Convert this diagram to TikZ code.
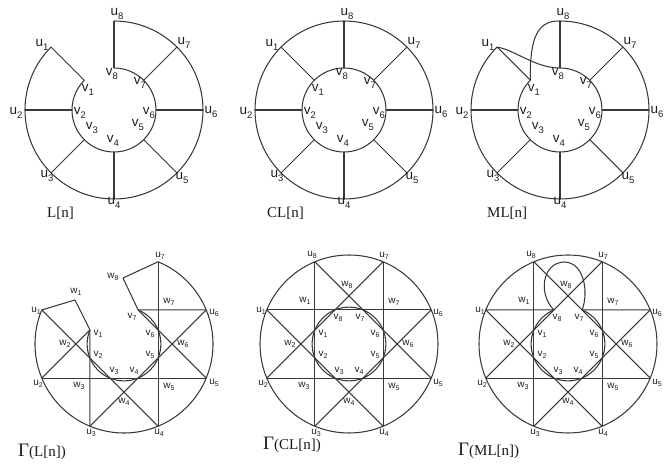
\documentclass[tikz,border=0pt]{standalone}
\usepackage{fontspec}
\setmainfont{Liberation Serif}
\setsansfont{Liberation Sans}
\newcommand\tlab[2]{{\fontsize{13.5}{14}\selectfont #1\raisebox{-0.45ex}{\fontsize{9.5}{10}\selectfont #2}}}
\newcommand\blab[2]{{\fontsize{10}{11}\selectfont #1\raisebox{-0.45ex}{\fontsize{7}{8}\selectfont #2}}}
\newcommand\capt[1]{{\fontsize{15}{17}\selectfont #1}}
\newcommand\gam{{\fontsize{19}{20}\selectfont Γ}}
\def\toplist{u/1/-72/65,u/2/-98/-3,u/3/-67/-66,u/4/0/-93,u/5/68/-68,u/6/97/-2,u/7/70/67,u/8/3/96,v/1/-26/20,v/2/-34/-3,v/3/-22/-18,v/4/-1/-31,v/5/24/-15,v/6/35/-3,v/7/26/27,v/8/-2/36}
\def\gclist{u/1/-88/33,u/2/-86/-40,u/3/-33/-89,u/4/35/-89,u/5/89/-39,u/6/89/31,u/7/35/88,u/8/-37/89,w/1/-44/43,w/2/-59/0,w/3/-45/-42,w/4/0/-58,w/5/45/-43,w/6/59/0,w/7/45/42,w/8/-2/59,v/1/-26/10,v/2/-26/-11,v/3/-10/-27,v/4/10/-27,v/5/26/-11,v/6/26/10,v/7/11/26,v/8/-11/26}
\def\gllist{u/1/-88/33,u/2/-86/-40,u/3/-33/-89,u/4/35/-89,u/5/90/-39,u/6/90/31,u/7/36/88,w/1/-48/52,w/2/-59/0,w/3/-45/-42,w/4/0/-58,w/5/45/-43,w/6/59/0,w/7/45/42,w/8/-11/67,v/1/-26/10,v/2/-26/-11,v/3/-10/-27,v/4/10/-27,v/5/26/-11,v/6/26/10,v/7/8/27}
\newcommand\toplabels[1]{\foreach \lt/\kk/\px/\py in \toplist {\node[lab] (#1l\lt\kk) at (\px,\py) {\tlab{\lt}{\kk}};}}
\newcommand\botlabels[2]{\foreach \lt/\kk/\px/\py in #2 {\node[lab] (#1l\lt\kk) at (\px,\py) {\blab{\lt}{\kk}};}}
\newcommand\topcoords[1]{\foreach \i in {1,...,8}{%
    \pgfmathsetmacro\ang{135+45*(\i-1)}%
    \coordinate (#1u\i) at (\ang:89);%
    \coordinate (#1v\i) at (\ang:42);}}
\newcommand\gcoords[1]{\foreach \i in {1,...,8}{%
    \pgfmathsetmacro\ang{157.5+45*(\i-1)}%
    \pgfmathsetmacro\wng{135+45*(\i-1)}%
    \coordinate (#1u\i) at (\ang:89);%
    \coordinate (#1v\i) at (\ang:36.87);%
    \coordinate (#1w\i) at (\wng:48.17);}}
\begin{document}
\begin{tikzpicture}[x=1pt,y=1pt,
  edge/.style={line width=1.05pt, draw=black!78, line join=round},
  lab/.style={inner sep=0pt, font=\sffamily, text=black!88},
  capn/.style={inner sep=0pt, anchor=base west, text=black!90}]
\useasboundingbox (0,0) rectangle (665,466);

% ---------- L[n] ----------
\begin{scope}[shift={(114,356)}]
  \coordinate (ac) at (0,0);
  \topcoords{a}
  \draw[edge] (au1) arc[start angle=135,end angle=450,radius=89];
  \draw[edge] (av1) arc[start angle=135,end angle=450,radius=42];
  \foreach \i in {1,...,8} \draw[edge] (au\i) -- (av\i);
  \toplabels{a}
\end{scope}

% ---------- CL[n] ----------
\begin{scope}[shift={(344,356)}]
  \coordinate (bc) at (0,0);
  \topcoords{b}
  \draw[edge] (bc) circle[radius=89];
  \draw[edge] (bc) circle[radius=42];
  \foreach \i in {1,...,8} \draw[edge] (bu\i) -- (bv\i);
  \toplabels{b}
\end{scope}

% ---------- ML[n] ----------
\begin{scope}[shift={(560,356)}]
  \coordinate (cc) at (0,0);
  \topcoords{c}
  \draw[edge] (cu1) arc[start angle=135,end angle=450,radius=89];
  \draw[edge] (cv1) arc[start angle=135,end angle=450,radius=42];
  \foreach \i in {1,...,8} \draw[edge] (cu\i) -- (cv\i);
  \draw[edge] (cu8) .. controls (-26,90) and (-30,65) .. (cv1);
  \draw[edge] (cu1) .. controls (-45,60) and (-25,42) .. (cv8);
  \toplabels{c}
\end{scope}

% ---------- Gamma(L[n]) ----------
\begin{scope}[shift={(124,122)}]
  \coordinate (dc) at (0,0);
  \gcoords{d}
  \coordinate (dx1) at (-49,44);
  \coordinate (dx8) at (-1,66);
  \draw[edge] (du1) arc[start angle=157.5,end angle=427.5,radius=89];
  \draw[edge] (dv1) arc[start angle=157.5,end angle=427.5,radius=36.87];
  \draw[edge] (du1) -- (dx1) -- (dv1) -- (du3);
  \draw[edge] (du2) -- (dv1);
  \foreach \a/\b in {1/4,2/5,3/6,4/7} \draw[edge] (du\a) -- (du\b);
  \draw[edge] (du5) -- (dv7) -- (dx8) -- (du7);
  \draw[edge] (dv7) -- (du6);
  \botlabels{d}{\gllist}
\end{scope}

% ---------- Gamma(CL[n]) ----------
\begin{scope}[shift={(349,122)}]
  \coordinate (ec) at (0,0);
  \gcoords{e}
  \draw[edge] (ec) circle[radius=89];
  \draw[edge] (ec) circle[radius=36.87];
  \foreach \a/\b in {1/4,2/5,3/6,4/7,5/8,6/1,7/2,8/3} \draw[edge] (eu\a) -- (eu\b);
  \botlabels{e}{\gclist}
\end{scope}

% ---------- Gamma(ML[n]) ----------
\begin{scope}[shift={(568,122)}]
  \coordinate (fc) at (0,0);
  \gcoords{f}
  \coordinate (floop) at (-4,82);
  \draw[edge] (fc) circle[radius=89];
  \draw[edge] (fv8) arc[start angle=112.5,end angle=427.5,radius=36.87];
  \foreach \a/\b in {1/4,2/5,3/6,4/7,5/8,7/2,8/3} \draw[edge] (fu\a) -- (fu\b);
  \draw[edge] (fu1) -- (fv8);
  \draw[edge] (fv7) -- (fu6);
  \draw[edge] (fv8) .. controls (-30,50) and (-26,81) .. (floop) .. controls (16,82) and (21,52) .. (fv7);
  \botlabels{f}{\gclist}
\end{scope}

% ---------- captions ----------
\node[capn] (cap1) at (47,248) {\capt{L[n]}};
\node[capn] (cap2) at (267,248) {\capt{CL[n]}};
\node[capn] (cap3) at (487,248) {\capt{ML[n]}};
\node[capn] (cap4) at (18,9) {\gam\capt{(L[n])}};
\node[capn] (cap5) at (263,16) {\gam\capt{(CL[n])}};
\node[capn] (cap6) at (458,10) {\gam\capt{(ML[n])}};
\end{tikzpicture}
\end{document}
